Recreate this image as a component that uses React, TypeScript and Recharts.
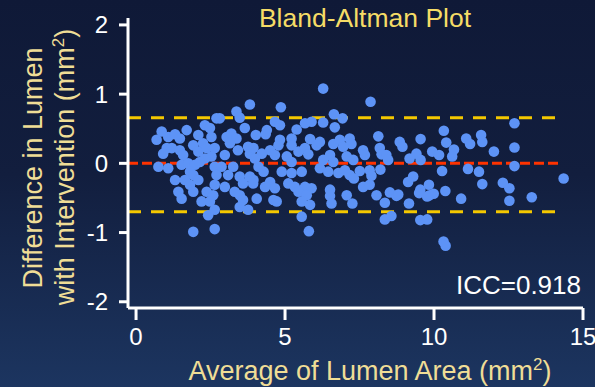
import React from 'react';
import { ScatterChart, Scatter, XAxis, YAxis, ReferenceLine, Label } from 'recharts';

// Average of lumen area (mm²)
const avgArea = [
  3.82, 3.37, 3.48, 2.70, 2.81, 2.31, 2.48, 2.53, 1.70, 0.86, 0.69, 1.08, 1.31, 1.47, 2.09, 3.04, 3.20, 3.37, 3.15, 3.65,
  1.92, 2.25, 1.03, 1.20, 1.47, 0.91, 1.58, 2.09, 2.37, 2.64, 2.98, 2.53, 2.31, 3.42, 3.76, 3.82, 0.75, 1.08, 1.53, 1.75,
  1.98, 2.14, 2.64, 2.87, 3.26, 1.81, 1.92, 2.70, 3.09, 3.48, 3.82, 1.31, 1.64, 2.09, 3.59, 3.93, 2.64, 2.98, 1.81, 1.42,
  1.92, 2.37, 2.59, 3.31, 3.48, 1.53, 2.48, 2.20, 3.59, 3.48, 3.76, 2.42, 2.64, 1.92, 2.64,
  4.86, 6.28, 4.66, 4.83, 5.67, 5.89, 4.39, 4.35, 5.39, 4.02, 5.22, 4.83, 5.84, 5.22, 4.78, 6.06, 3.94, 4.50, 5.45, 5.67, 4.22, 4.66, 5.78, 5.06, 5.22, 3.99, 4.11, 4.28, 4.89, 5.22, 5.56, 3.94, 4.50, 4.33, 4.66, 5.11, 5.33, 5.67, 5.89, 5.45, 5.73, 4.05, 4.61, 4.72, 5.56, 5.84, 5.56, 5.80,
  7.87, 6.64, 6.93, 6.28, 6.67, 8.13, 6.17, 6.62, 6.84, 7.17, 7.23, 6.95, 7.62, 7.68, 8.18, 8.24, 8.40, 8.46, 7.07, 7.29, 6.51, 6.28, 6.62, 8.85, 6.17, 6.45, 6.79, 7.01, 7.17, 7.31, 7.51, 7.84, 7.90, 8.20, 6.51, 6.51, 6.56, 7.07, 7.62, 7.84, 8.07, 8.35, 8.52, 8.74, 7.26, 8.35, 8.57,
  10.33, 9.55, 8.94, 10.41, 11.08, 11.21, 11.58, 11.62, 10.67, 10.61, 9.94, 10.17, 9.41, 9.18, 9.55, 10.27, 11.14, 11.51, 9.30, 9.13, 9.83, 9.54, 9.50, 9.85, 9.99, 9.77, 10.38, 10.91, 11.62, 8.80, 9.16, 9.54, 9.77, 10.32, 10.39,
  12.70, 12.01, 12.70, 12.70, 12.31, 12.53, 13.28, 12.53, 14.35,
];

// Difference in lumen with intervention (mm²)
const diffLumen = [
  0.85, 0.75, 0.66, 0.65, 0.65, 0.55, 0.51, 0.38, 0.48, 0.46, 0.34, 0.38, 0.42, 0.36, 0.41, 0.38, 0.43, 0.36, 0.29, 0.51,
  0.26, 0.29, 0.22, 0.22, 0.19, 0.14, 0.12, 0.17, 0.22, 0.22, 0.12, 0.10, 0.07, 0.19, 0.24, 0.14, -0.05, -0.07, -0.02, 0.00,
  -0.02, 0.02, -0.05, -0.05, -0.05, -0.12, -0.17, -0.17, -0.17, -0.19, -0.19, -0.24, -0.24, -0.24, -0.29, -0.29, -0.31, -0.34, -0.31, -0.41,
  -0.41, -0.41, -0.46, -0.41, -0.46, -0.51, -0.55, -0.55, -0.53, -0.63, -0.67, -0.75, -0.67, -0.99, -0.95,
  0.81, 1.08, 0.60, 0.55, 0.58, 0.60, 0.48, 0.42, 0.49, 0.41, 0.36, 0.34, 0.35, 0.26, 0.26, 0.26, 0.22, 0.19, 0.17, 0.22, 0.14, 0.12, 0.13, 0.10, 0.02, 0.07, -0.05, -0.12, -0.12, -0.14, -0.12, -0.24, -0.27, -0.34, -0.36, -0.29, -0.34, -0.34, -0.36, -0.41, -0.46, -0.51, -0.53, -0.55, -0.55, -0.60, -0.77, -0.98,
  0.89, 0.71, 0.65, 0.59, 0.52, 0.39, 0.31, 0.28, 0.34, 0.36, 0.28, 0.24, 0.19, 0.12, 0.22, 0.13, 0.12, 0.05, 0.10, 0.05, 0.12, 0.05, 0.02, 0.31, -0.07, -0.12, -0.14, -0.10, -0.17, -0.22, -0.11, -0.10, -0.18, -0.09, -0.38, -0.47, -0.58, -0.46, -0.34, -0.31, -0.46, -0.57, -0.42, -0.47, -0.58, -0.81, -0.76,
  0.47, 0.35, 0.24, 0.30, 0.36, 0.28, 0.41, 0.31, 0.20, 0.10, 0.17, 0.12, 0.14, 0.07, 0.05, -0.11, -0.08, -0.12, -0.19, -0.27, -0.31, -0.38, -0.43, -0.46, -0.44, -0.48, -0.40, -0.51, -0.30, -0.45, -0.58, -0.82, -0.81, -1.13, -1.19,
  0.58, 0.17, 0.23, -0.04, -0.28, -0.36, -0.49, -0.54, -0.22,
];

const xTicks = [0, 5, 10, 15];
const yTicks = [-2, -1, 0, 1, 2];
const xDomain = [-0.27, 15];
const yDomain = [-2.09, 2.1];

const meanDiff = 0;
const upperLoA = 0.66;
const lowerLoA = -0.7;
const limitStartX = -0.27;
const limitEndX = 14.2;

const iccText = 'ICC=0.918';
const titleText = 'Bland-Altman Plot';

const data = avgArea.map((x, i) => ({ x, y: diffLumen[i] }));

const FONT = '"Liberation Sans", Arial, Helvetica, sans-serif';
const LABEL_COLOR = '#efdd96';
const TITLE_COLOR = '#f5dc66';
const DOT_COLOR = '#5d93f6';

const Dot = (props: any) => {
  const { cx, cy } = props;
  if (cx == null || cy == null) return null;
  return <circle cx={cx} cy={cy} r={5.3} fill={DOT_COLOR} />;
};

const XLabelContent = () => (
  <text x={370} y={380} textAnchor="middle" fill={LABEL_COLOR} fontSize={27} fontFamily={FONT}>
    Average of Lumen Area (mm
    <tspan dy={-10} fontSize={17}>2</tspan>
    <tspan dy={10}>)</tspan>
  </text>
);

const YLabelContent = () => (
  <g>
    <text
      transform="translate(42,168) rotate(-90)"
      x={0}
      y={0}
      textAnchor="middle"
      fill={LABEL_COLOR}
      fontSize={27}
      fontFamily={FONT}
    >
      Difference in Lumen
    </text>
    <text
      transform="translate(74,167) rotate(-90)"
      x={0}
      y={0}
      textAnchor="middle"
      fill={LABEL_COLOR}
      fontSize={27}
      fontFamily={FONT}
    >
      with Intervention (mm
      <tspan dy={-10} fontSize={17}>2</tspan>
      <tspan dy={10}>)</tspan>
    </text>
  </g>
);

export default function App() {
  return (
    <div
      style={{
        position: 'absolute',
        left: 0,
        top: 0,
        width: 595,
        height: 387,
        background: 'linear-gradient(180deg, #0f1937 0%, #121e3e 45%, #1c3560 100%)',
      }}
    >
      <ScatterChart width={595} height={387} margin={{ top: 18, right: 12, bottom: 0, left: 0 }}>
        <XAxis
          type="number"
          dataKey="x"
          domain={xDomain}
          ticks={xTicks}
          allowDataOverflow
          height={79}
          axisLine={{ stroke: '#ffffff', strokeWidth: 3 }}
          tickLine={{ stroke: '#ffffff', strokeWidth: 3 }}
          tickSize={12}
          tickMargin={8}
          tick={{ fill: '#ffffff', fontSize: 24, fontFamily: FONT }}
          label={<Label content={XLabelContent} />}
        />
        <YAxis
          type="number"
          dataKey="y"
          domain={yDomain}
          ticks={yTicks}
          allowDataOverflow
          width={128}
          axisLine={{ stroke: '#ffffff', strokeWidth: 3 }}
          tickLine={{ stroke: '#ffffff', strokeWidth: 3 }}
          tickSize={9}
          tickMargin={11}
          tick={{ fill: '#ffffff', fontSize: 24, fontFamily: FONT }}
          label={<Label content={YLabelContent} />}
        />
        <ReferenceLine
          segment={[{ x: limitStartX, y: upperLoA }, { x: limitEndX, y: upperLoA }]}
          stroke="#f4c800"
          strokeWidth={3}
          strokeDasharray="13 10"
        />
        <ReferenceLine
          segment={[{ x: limitStartX, y: lowerLoA }, { x: limitEndX, y: lowerLoA }]}
          stroke="#f4c800"
          strokeWidth={3}
          strokeDasharray="13 10"
        />
        <ReferenceLine
          segment={[{ x: limitStartX, y: meanDiff }, { x: limitEndX + 0.07, y: meanDiff }]}
          stroke="#ff3300"
          strokeWidth={3}
          strokeDasharray="10 4"
        />
        <Scatter data={data} shape={Dot} isAnimationActive={false} />
        <text x={365} y={27} textAnchor="middle" fill={TITLE_COLOR} fontSize={26.5} fontFamily={FONT}>
          {titleText}
        </text>
        <text x={581} y={294} textAnchor="end" fill="#ffffff" fontSize={26} fontFamily={FONT}>
          {iccText}
        </text>
      </ScatterChart>
    </div>
  );
}
